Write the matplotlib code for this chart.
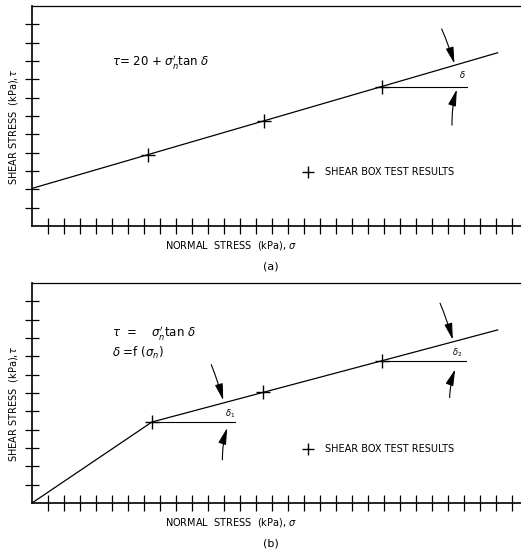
import matplotlib
matplotlib.use("Agg")
import matplotlib.pyplot as plt

# units: 1 grid step = 10 kPa on both axes
x_ticks = list(range(1, 31))
y_ticks = list(range(1, 12))

# (a) linear envelope with cohesion intercept
a_line_x = [0.0, 29.1]
a_line_y = [2.05, 9.45]
a_test_x = [7.25, 14.5, 21.9]
a_test_y = [3.88, 5.72, 7.58]

# (b) bilinear envelope through the origin
b_line_x = [0.0, 7.5, 29.1]
b_line_y = [0.0, 4.42, 9.44]
b_test_x = [7.5, 14.45, 21.9]
b_test_y = [4.42, 6.05, 7.75]

LBL = dict(fontsize=7, color="black")


def base_axes(ax, letter):
    ax.set_xlim(0, 30.56)
    ax.set_ylim(0, 12)
    ax.spines["right"].set_visible(False)
    for s in ("left", "bottom"):
        ax.spines[s].set_linewidth(1.2)
    ax.spines["top"].set_linewidth(0.9)
    ax.set_xticks(x_ticks)
    ax.set_yticks(y_ticks)
    ax.set_xticklabels([])
    ax.set_yticklabels([])
    ax.tick_params(axis="x", direction="inout", length=11, width=0.9)
    ax.tick_params(axis="y", direction="inout", length=9.5, width=0.9)
    ax.set_ylabel(r"SHEAR STRESS  (kPa),$\tau$", **LBL)
    ax.yaxis.set_label_coords(-0.024, 0.45)
    ax.set_xlabel(r"NORMAL  STRESS  (kPa), $\sigma$", **LBL)
    ax.xaxis.set_label_coords(0.407, -0.06)
    ax.text(0.488, -0.185, letter, transform=ax.transAxes, ha="center",
            va="center", fontsize=8)


def angle_arrow(ax, start, end, rad):
    ax.annotate("", xy=end, xytext=start,
                arrowprops=dict(arrowstyle="-|>,head_length=1.0,head_width=0.24",
                                connectionstyle=f"arc3,rad={rad}",
                                color="black", lw=0.8, shrinkA=0, shrinkB=0))


def tests(ax, xs, ys):
    ax.plot(xs, ys, linestyle="none", marker="+", ms=10, mew=1.0,
            color="black", label="SHEAR BOX TEST RESULTS")
    leg = ax.legend(loc="center left", bbox_to_anchor=(0.538, 0.245),
                    frameon=False, borderpad=0, handlelength=1.6,
                    handletextpad=1.0, prop=dict(size=7))
    leg.get_lines()[0].set_markersize(9)


fig = plt.figure(figsize=(5.21, 5.60), dpi=100)
ax_a = fig.add_axes([32 / 521, 334 / 560, 489 / 521, 220 / 560])
ax_b = fig.add_axes([32 / 521, 57 / 560, 489 / 521, 220 / 560])

# --- (a)
base_axes(ax_a, "(a)")
ax_a.plot(a_line_x, a_line_y, color="black", lw=0.9)
tests(ax_a, a_test_x, a_test_y)
ax_a.plot([a_test_x[2], 27.2], [a_test_y[2]] * 2, color="black", lw=0.8)
ax_a.text(26.9, 7.95, r"$\delta$", fontsize=6, ha="center", va="bottom")
angle_arrow(ax_a, (25.6, 10.75), (26.4, 8.85), -0.03)
angle_arrow(ax_a, (26.25, 5.5), (26.55, 7.45), -0.08)
ax_a.text(5.0, 8.95, r"$\tau$= 20 + $\sigma^{\prime}_{n}$tan $\delta$",
          fontsize=8.5, va="center")

# --- (b)
base_axes(ax_b, "(b)")
ax_b.plot(b_line_x, b_line_y, color="black", lw=0.9)
tests(ax_b, b_test_x, b_test_y)
ax_b.plot([b_test_x[0], 12.7], [b_test_y[0]] * 2, color="black", lw=0.8)
ax_b.plot([b_test_x[2], 27.1], [b_test_y[2]] * 2, color="black", lw=0.8)
ax_b.text(12.4, 4.55, r"$\delta_1$", fontsize=6, ha="center", va="bottom")
ax_b.text(26.6, 7.85, r"$\delta_2$", fontsize=6, ha="center", va="bottom")
angle_arrow(ax_b, (11.2, 7.55), (11.95, 5.6), -0.03)
angle_arrow(ax_b, (11.9, 2.35), (12.2, 4.1), -0.08)
angle_arrow(ax_b, (25.5, 10.9), (26.3, 8.9), -0.03)
angle_arrow(ax_b, (26.1, 5.75), (26.45, 7.3), -0.08)
ax_b.text(5.0, 9.27, r"$\tau$  =    $\sigma^{\prime}_{n}$tan $\delta$",
          fontsize=8.5, va="center")
ax_b.text(5.0, 8.2, r"$\delta$ =f ($\sigma_{n}$)", fontsize=8.5, va="center")

fig.savefig("out.png", dpi=100)
